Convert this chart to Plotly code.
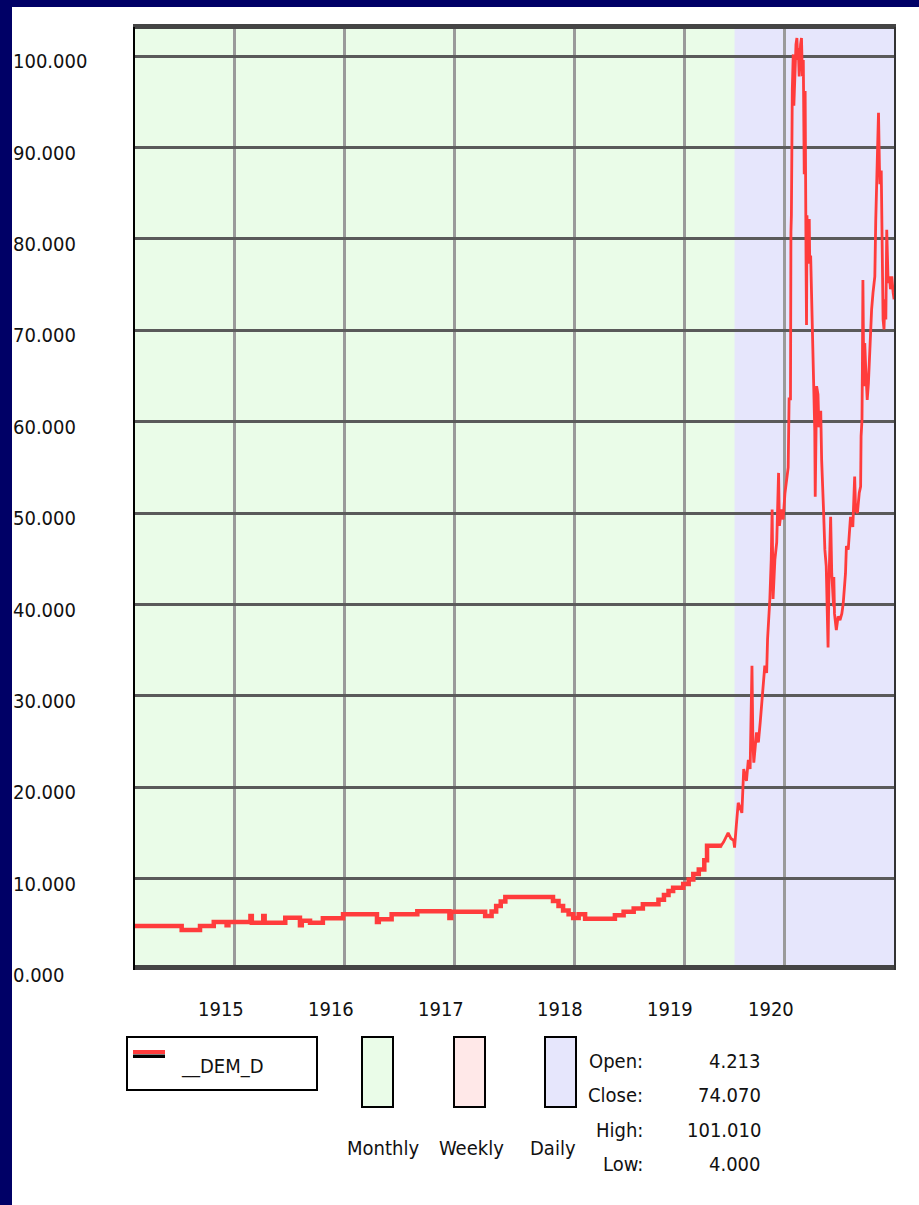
import plotly.graph_objects as go

# ---------------- data ----------------
series_name = "__DEM_D"

# monthly section (x = month index since Jan 1914 on the chart's bar scale)
monthly_x = [1.0, 6.2, 8.2, 9.7, 11.1, 11.3, 13.7, 13.85, 15.1, 15.25, 17.5, 19.1, 19.3,
             20.2, 21.6, 23.8, 27.5, 27.7, 29.1, 31.9, 35.4, 35.6, 39.3, 40.0, 40.5,
             41.0, 41.5, 46.7, 47.3, 47.8, 48.4, 48.9, 49.5, 50.2, 53.45, 54.4, 55.5,
             56.5, 58.2, 58.8, 59.3, 59.8, 60.9, 61.5, 62.0, 62.6, 63.2, 63.5, 64.9]
monthly_v = [4.81, 4.38, 4.81, 5.25, 4.9, 5.25, 5.9, 5.18, 5.9, 5.18, 5.73, 4.9, 5.4,
             5.18, 5.66, 6.09, 5.25, 5.55, 6.09, 6.42, 5.7, 6.37, 5.9, 6.4, 7.0,
             7.5, 7.99, 7.55, 7.0, 6.5, 6.1, 5.7, 6.1, 5.62, 5.99, 6.37, 6.72,
             7.19, 7.7, 8.2, 8.64, 9.0, 9.4, 9.9, 10.5, 11.0, 12.0, 13.6, 13.4]

# daily section
daily_x = [64.9, 65.3, 65.8, 66.1, 66.4, 66.5, 66.7, 66.9, 67.3, 67.45, 67.5, 67.8, 68.0,
           68.2, 68.25, 68.35, 68.4, 68.5, 68.6, 68.9, 69.1, 69.3, 69.45, 69.6, 69.8,
           70.0, 70.1, 70.35, 70.5, 70.6, 70.7, 70.9, 71.1, 71.3, 71.4, 71.6, 71.8,
           72.0, 72.2, 72.35, 72.45, 72.6, 72.65, 72.7, 72.8, 72.9, 72.97, 73.1, 73.2,
           73.3, 73.4, 73.45, 73.55, 73.7, 73.8, 73.9, 74.0, 74.1, 74.2, 74.3, 74.35,
           74.4, 74.5, 74.65, 74.7, 74.8, 74.9, 75.0, 75.15, 75.25, 75.3, 75.45, 75.6,
           75.7, 75.9, 76.0, 76.2, 76.35, 76.5, 76.7, 76.8, 76.98, 77.1, 77.3, 77.33,
           77.4, 77.6, 77.8, 78.0, 78.2, 78.35, 78.5, 78.6, 78.7, 78.9, 79.1, 79.15,
           79.4, 79.5, 79.6, 79.7, 79.9, 80.1, 80.25, 80.3, 80.4, 80.45, 80.5, 80.6,
           80.7, 80.8, 80.97, 81.1, 81.27, 81.45, 81.6, 81.8, 81.9, 82.0, 82.2, 82.3,
           82.35, 82.5, 82.55, 82.6, 82.7, 82.8, 82.9, 83.0, 83.1, 83.25, 83.4, 83.5,
           83.65, 83.8, 83.9]
daily_v = [13.4, 14.0, 15.0, 14.4, 14.2, 13.4, 15.9, 18.3, 17.2, 20.0, 22.0, 20.7, 23.0,
           22.0, 25.6, 28.2, 33.3, 24.9, 22.7, 26.0, 24.9, 27.1, 28.9, 31.1, 33.3,
           32.5, 36.2, 40.6, 44.9, 50.4, 40.6, 44.9, 46.8, 54.4, 48.6, 50.4, 49.3,
           52.2, 53.7, 55.0, 62.5, 62.5, 80.8, 82.6, 96.4, 100.2, 94.6, 100.0, 101.3,
           102.0, 99.6, 100.9, 97.8, 101.3, 102.0, 97.8, 99.6, 87.1, 96.2, 77.3, 70.6,
           82.6, 77.3, 82.2, 77.3, 78.2, 73.2, 68.3, 64.3, 59.0, 51.8, 63.9, 63.0,
           59.4, 61.2, 55.8, 50.5, 46.0, 44.2, 35.3, 42.5, 49.6, 43.4, 39.8, 43.0,
           39.0, 37.2, 38.7, 38.3, 39.0, 40.1, 41.6, 43.4, 46.4, 46.0, 48.9, 49.6,
           48.5, 52.9, 54.0, 50.4, 50.0, 52.2, 52.9, 58.4, 60.2, 66.8, 75.5, 63.9,
           68.6, 66.0, 62.4, 64.2, 69.3, 72.3, 74.1, 75.9, 82.1, 86.5, 93.8, 88.0,
           86.0, 87.5, 80.7, 74.1, 71.2, 70.1, 73.4, 71.2, 81.0, 75.2, 75.9, 74.5,
           75.9, 74.1, 73.4]

y_ticks = [0, 10, 20, 30, 40, 50, 60, 70, 80, 90, 100]
y_tick_labels = ["0.000", "10.000", "20.000", "30.000", "40.000", "50.000",
                 "60.000", "70.000", "80.000", "90.000", "100.000"]
x_tick_pos = [12, 24, 36, 49, 61, 72]
x_tick_labels = ["1915", "1916", "1917", "1918", "1919", "1920"]
x_start, daily_start, x_end = 1.0, 66.5, 84.0
y_max = 103.2

period_names = ["Monthly", "Weekly", "Daily"]
stat_names = ["Open:", "Close:", "High:", "Low:"]
stat_values = ["4.213", "74.070", "101.010", "4.000"]

# ---------------- style / geometry ----------------
W, H = 919, 1205
L, R, T, B = 134, 895, 27, 970
FONT = "Liberation Sans Narrow, DejaVu Sans Condensed, Liberation Sans, sans-serif"
FS = 20
RED = "#ff3c3c"
GREEN = "#eafce8"
PINK = "#ffe8e8"
LAV = "#e6e6fc"
NAVY = "#000066"
period_colors = [GREEN, PINK, LAV]


def px(x):
    return (x - L) / (R - L)


def py(y):
    return (B - y) / (B - T)


fig = go.Figure()
fig.add_trace(go.Scatter(x=monthly_x, y=monthly_v, mode="lines",
                         line=dict(color=RED, width=4.5, shape="hv"),
                         name=series_name, showlegend=False, hoverinfo="skip"))
fig.add_trace(go.Scatter(x=daily_x, y=daily_v, mode="lines",
                         line=dict(color=RED, width=2.8),
                         name=series_name, showlegend=False, hoverinfo="skip"))

shapes = []
# daily background region
shapes.append(dict(type="rect", xref="x", yref="paper", x0=daily_start, x1=x_end,
                   y0=0, y1=1, fillcolor=LAV, line=dict(width=0), layer="below"))
# frame
shapes.append(dict(type="rect", xref="paper", yref="paper", x0=px(L - 1), x1=px(R + 1),
                   y0=py(B), y1=py(B - 5), fillcolor="#444444", line=dict(width=0),
                   layer="above"))
shapes.append(dict(type="rect", xref="paper", yref="paper", x0=px(L - 1), x1=px(R + 1),
                   y0=py(T + 2), y1=py(T - 3), fillcolor="#444444", line=dict(width=0),
                   layer="above"))
shapes.append(dict(type="line", xref="paper", yref="paper", x0=px(L), x1=px(L),
                   y0=0, y1=1, line=dict(color="black", width=2), layer="above"))
shapes.append(dict(type="line", xref="paper", yref="paper", x0=px(R), x1=px(R),
                   y0=0, y1=1, line=dict(color="#333333", width=2), layer="above"))
# navy border
shapes.append(dict(type="rect", xref="paper", yref="paper", x0=px(0), x1=px(12),
                   y0=py(H), y1=py(0), fillcolor=NAVY, line=dict(width=0), layer="above"))
shapes.append(dict(type="rect", xref="paper", yref="paper", x0=px(0), x1=px(W),
                   y0=py(7), y1=py(0), fillcolor=NAVY, line=dict(width=0), layer="above"))
# series legend box
shapes.append(dict(type="rect", xref="paper", yref="paper", x0=px(127), x1=px(317),
                   y0=py(1090), y1=py(1037), fillcolor="white",
                   line=dict(color="black", width=2)))
shapes.append(dict(type="rect", xref="paper", yref="paper", x0=px(133), x1=px(165),
                   y0=py(1054), y1=py(1050), fillcolor=RED, line=dict(width=0)))
shapes.append(dict(type="rect", xref="paper", yref="paper", x0=px(133), x1=px(165),
                   y0=py(1058), y1=py(1054.5), fillcolor="black", line=dict(width=0)))
# period boxes
box_left = [362, 454, 545]
for bl, col in zip(box_left, period_colors):
    shapes.append(dict(type="rect", xref="paper", yref="paper", x0=px(bl), x1=px(bl + 31),
                       y0=py(1107), y1=py(1037), fillcolor=col,
                       line=dict(color="black", width=2)))

ann = []
tf = dict(family=FONT, size=FS, color="#111111")
for v, lab in zip(y_ticks, y_tick_labels):
    ann.append(dict(x=px(11), xref="paper", y=v, yref="y", text=lab, showarrow=False,
                    xanchor="left", yanchor="middle", yshift=-5, font=tf))
for xv, lab in zip(x_tick_pos, x_tick_labels):
    ann.append(dict(x=xv, xref="x", y=py(1009), yref="paper", text=lab, showarrow=False,
                    xanchor="center", yanchor="middle", xshift=-14, font=tf))
ann.append(dict(x=px(179), xref="paper", y=py(1066), yref="paper", text=series_name,
                showarrow=False, xanchor="left", yanchor="middle", font=tf))
for bl, name in zip(box_left, period_names):
    ann.append(dict(x=px(bl - 17), xref="paper", y=py(1148), yref="paper", text=name,
                    showarrow=False, xanchor="left", yanchor="middle", font=tf))
row_y = [1061, 1095, 1130, 1164]
for ry, nm, val in zip(row_y, stat_names, stat_values):
    ann.append(dict(x=px(645), xref="paper", y=py(ry), yref="paper", text=nm,
                    showarrow=False, xanchor="right", yanchor="middle", font=tf))
    ann.append(dict(x=px(763), xref="paper", y=py(ry), yref="paper", text=val,
                    showarrow=False, xanchor="right", yanchor="middle", font=tf))

fig.update_layout(
    width=W, height=H,
    margin=dict(l=L, r=W - R, t=T, b=H - B, pad=0),
    paper_bgcolor="white", plot_bgcolor=GREEN,
    showlegend=False,
    shapes=shapes, annotations=ann,
    xaxis=dict(range=[x_start, x_end], tickvals=x_tick_pos, showticklabels=False,
               ticks="", showgrid=True, gridcolor="#9a9a9a", gridwidth=3,
               zeroline=False, showline=False, fixedrange=True),
    yaxis=dict(range=[0, y_max], tickvals=y_ticks, showticklabels=False, ticks="",
               showgrid=True, gridcolor="#5a5a5a", gridwidth=3,
               zeroline=False, showline=False, fixedrange=True),
)

fig.write_html(
    "out.html",
    config={"displayModeBar": False, "staticPlot": True},
    post_script="document.body.style.margin='0';document.body.style.overflow='hidden';",
)
